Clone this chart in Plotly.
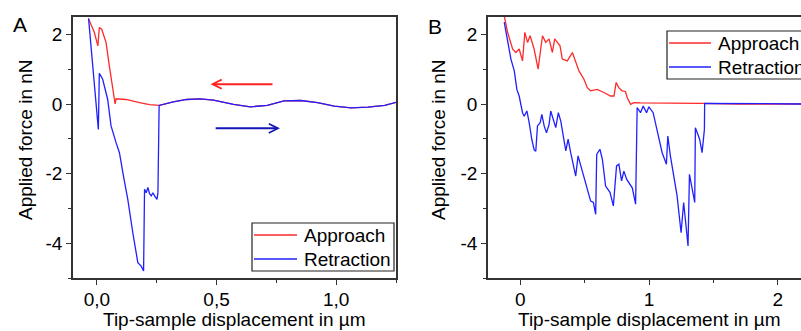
import plotly.graph_objects as go

# ---------------- Panel A data ----------------
a_app_x = [-0.035, -0.011, 0.004, 0.010, 0.020, 0.038, 0.052, 0.073, 0.076, 0.080, 0.122, 0.178, 0.220, 0.260,
           0.319, 0.375, 0.431, 0.487, 0.571, 0.641, 0.712, 0.782, 0.852, 0.922, 0.992, 1.062, 1.133, 1.203, 1.256]
a_app_y = [2.45, 2.06, 1.67, 2.20, 2.15, 1.77, 1.09, 0.13, 0.00, 0.15, 0.13, 0.04, -0.02, -0.04,
           0.06, 0.13, 0.15, 0.11, -0.01, -0.08, -0.04, 0.09, 0.10, 0.04, -0.06, -0.11, -0.09, -0.04, 0.06]

a_ret_x = [-0.035, -0.018, -0.004, 0.006, 0.010, 0.024, 0.045, 0.059, 0.080, 0.094, 0.111, 0.129, 0.150,
           0.171, 0.185, 0.195, 0.199, 0.206, 0.213, 0.220, 0.227, 0.234, 0.241, 0.251, 0.255, 0.260,
           0.319, 0.375, 0.431, 0.487, 0.571, 0.641, 0.712, 0.782, 0.852, 0.922, 0.992, 1.062, 1.133, 1.203, 1.256]
a_ret_y = [2.46, 1.09, -0.15, -0.73, 0.88, 0.71, 0.13, -0.63, -1.11, -1.40, -2.07, -2.74, -3.70,
           -4.56, -4.66, -4.80, -2.45, -2.55, -2.40, -2.58, -2.64, -2.55, -2.64, -2.74, -2.55, -0.04,
           0.06, 0.13, 0.15, 0.11, -0.01, -0.08, -0.04, 0.09, 0.10, 0.04, -0.06, -0.11, -0.09, -0.04, 0.06]

# ---------------- Panel B data ----------------
b_app_x = [-0.124, -0.098, -0.059, -0.034, -0.008, 0.018, 0.036, 0.057, 0.077, 0.108, 0.139, 0.173, 0.198,
           0.224, 0.250, 0.268, 0.289, 0.309, 0.327, 0.366, 0.405, 0.430, 0.456, 0.495, 0.521, 0.546,
           0.598, 0.649, 0.701, 0.728, 0.745, 0.765, 0.791, 0.817, 0.831, 0.857, 0.882, 0.933, 1.139,
           1.397, 1.700, 2.000, 2.200]
b_app_y = [2.54, 2.06, 1.58, 1.48, 1.58, 1.24, 2.06, 1.77, 1.96, 1.58, 1.00, 1.96, 1.77,
           1.87, 1.48, 1.87, 1.77, 1.67, 1.29, 1.24, 1.48, 1.24, 0.95, 0.71, 0.47, 0.38,
           0.42, 0.33, 0.23, 0.23, 0.62, 0.47, 0.38, 0.36, 0.18, -0.01, 0.04, 0.03, 0.03,
           0.02, 0.00, 0.01, 0.00]

b_ret_x = [-0.124, -0.098, -0.072, -0.046, -0.034, -0.026, -0.008, 0.018, 0.031, 0.052, 0.070, 0.090,
           0.108, 0.121, 0.134, 0.155, 0.168, 0.186, 0.204, 0.224, 0.237, 0.258, 0.276, 0.296, 0.315,
           0.354, 0.372, 0.392, 0.431, 0.449, 0.475, 0.495, 0.522, 0.547, 0.568, 0.586, 0.594, 0.619,
           0.638, 0.663, 0.697, 0.723, 0.748, 0.766, 0.787, 0.805, 0.826, 0.844, 0.870, 0.896, 0.908,
           0.934, 0.955, 0.981, 0.999, 1.032, 1.063, 1.102, 1.135, 1.146, 1.166, 1.192, 1.218, 1.249,
           1.269, 1.290, 1.303, 1.314, 1.334, 1.355, 1.360, 1.393, 1.412, 1.430, 1.432, 1.800, 2.200]
b_ret_y = [2.35, 1.77, 1.29, 0.95, 0.62, 0.42, 0.23, -0.25, -0.35, -0.20, -0.54, -1.02,
           -1.31, -1.36, -0.63, -0.54, -0.30, -0.63, -0.83, -0.59, -0.20, -0.44, -0.68, -0.25, -0.49,
           -1.35, -1.01, -1.40, -2.07, -1.49, -1.83, -2.12, -2.45, -2.79, -2.83, -3.17, -1.45, -1.30,
           -1.59, -2.36, -2.54, -2.93, -1.78, -1.73, -2.21, -1.93, -2.16, -2.26, -2.41, -2.88, -0.10,
           -0.25, -0.06, -0.25, -0.08, -0.25, -0.73, -1.40, -1.73, -0.92, -1.49, -2.07, -2.64, -3.70,
           -2.83, -3.60, -4.08, -2.02, -2.45, -2.83, -0.68, -1.01, -1.40, -0.73, 0.02, 0.00, 0.00]

# Direction arrows in panel A (data coords): [x_start, x_end], y
arrow_red_x = [0.74, 0.475]
arrow_red_y = 0.57
arrow_blue_x = [0.49, 0.765]
arrow_blue_y = -0.70

series_names = ["Approach", "Retraction"]
a_xticks = [0.0, 0.5, 1.0]
a_xticktext = ["0,0", "0,5", "1,0"]
b_xticks = [0, 1, 2]
b_xticktext = ["0", "1", "2"]
yticks = [2, 0, -2, -4]
yticktext = ["2", "0", "-2", "-4"]

RED = "#ff2a2a"
BLUE = "#2020ff"
COLORS = [RED, BLUE]
ARROW_RED = "#ff2020"
ARROW_BLUE = "#1515b8"
FONT = "Liberation Sans, Arial, sans-serif"
AX = "#333333"

fig = go.Figure()

fig.add_trace(go.Scatter(x=a_app_x, y=a_app_y, mode="lines", line=dict(color=RED, width=1.3),
                         name=series_names[0], xaxis="x", yaxis="y", showlegend=False))
fig.add_trace(go.Scatter(x=a_ret_x, y=a_ret_y, mode="lines", line=dict(color=BLUE, width=1.3),
                         name=series_names[1], xaxis="x", yaxis="y", showlegend=False))
fig.add_trace(go.Scatter(x=b_app_x, y=b_app_y, mode="lines", line=dict(color=RED, width=1.3),
                         name=series_names[0], xaxis="x2", yaxis="y2", showlegend=False))
fig.add_trace(go.Scatter(x=b_ret_x, y=b_ret_y, mode="lines", line=dict(color=BLUE, width=1.3),
                         name=series_names[1], xaxis="x2", yaxis="y2", showlegend=False))

# arrows as annotations
fig.add_annotation(x=arrow_red_x[1], y=arrow_red_y, ax=arrow_red_x[0], ay=arrow_red_y,
                   xref="x", yref="y", axref="x", ayref="y", text="", showarrow=True,
                   arrowhead=5, arrowsize=0.9, arrowwidth=2, arrowcolor=ARROW_RED)
fig.add_annotation(x=arrow_blue_x[1], y=arrow_blue_y, ax=arrow_blue_x[0], ay=arrow_blue_y,
                   xref="x", yref="y", axref="x", ayref="y", text="", showarrow=True,
                   arrowhead=5, arrowsize=0.9, arrowwidth=2, arrowcolor=ARROW_BLUE)

W, H = 801, 331
top = 1 - 17 / H
bot = 1 - 278 / H
axA = [73 / W, 396 / W]
axB = [488 / W, 1.0]

common_y = dict(range=[-5, 2.5], tickvals=yticks, ticktext=yticktext, ticks="outside", ticklen=5,
                tickwidth=1.2, tickcolor=AX, showline=True, linecolor=AX, linewidth=1.5,
                showgrid=False, zeroline=False, domain=[bot, top],
                minor=dict(dtick=1, ticks="outside", ticklen=3, tickcolor=AX, tickwidth=1.2),
                tickfont=dict(size=19, family=FONT, color="black"))

fig.update_layout(
    width=W, height=H, margin=dict(l=0, r=0, t=0, b=0, autoexpand=False),
    paper_bgcolor="white", plot_bgcolor="white",
    font=dict(family=FONT, size=19, color="black"),
    xaxis=dict(domain=axA, range=[-0.1, 1.25], tickvals=a_xticks, ticktext=a_xticktext,
               ticks="outside", ticklen=5, tickwidth=1.2, tickcolor=AX, showline=True,
               linecolor=AX, linewidth=1.5, mirror=True, showgrid=False, zeroline=False,
               anchor="y", ticklabelstandoff=-2,
               minor=dict(dtick=0.25, ticks="outside", ticklen=3, tickcolor=AX, tickwidth=1.2),
               tickfont=dict(size=19, family=FONT, color="black")),
    yaxis=dict(anchor="x", mirror=True, **common_y),
    xaxis2=dict(domain=axB, range=[-0.25, 2.18], tickvals=b_xticks, ticktext=b_xticktext,
                ticks="outside", ticklen=5, tickwidth=1.2, tickcolor=AX, showline=True,
                linecolor=AX, linewidth=1.5, mirror=True, showgrid=False, zeroline=False,
                anchor="y2", ticklabelstandoff=-2,
                minor=dict(dtick=0.5, ticks="outside", ticklen=3, tickcolor=AX, tickwidth=1.2),
                tickfont=dict(size=19, family=FONT, color="black")),
    yaxis2=dict(anchor="x2", mirror=False, **common_y),
    showlegend=False,
)

# ---- manual legends (pixel layout) ----
def px_x(v):
    return v / W

def px_y(v):
    return 1 - v / H

legend_boxes = [
    dict(box=(252, 223, 394, 271), lx=(254, 297), tx=302, rows=(235, 259)),
    dict(box=(667, 31, 830, 79), lx=(669, 711), tx=716, rows=(43, 67)),
]
for lg in legend_boxes:
    x0, y0, x1, y1 = lg["box"]
    fig.add_shape(type="rect", xref="paper", yref="paper", x0=px_x(x0), x1=px_x(x1),
                  y0=px_y(y1), y1=px_y(y0), line=dict(color="#222222", width=1.2),
                  fillcolor="white", layer="above")
    for name, col, ry in zip(series_names, COLORS, lg["rows"]):
        fig.add_shape(type="line", xref="paper", yref="paper", x0=px_x(lg["lx"][0]), x1=px_x(lg["lx"][1]),
                      y0=px_y(ry), y1=px_y(ry), line=dict(color=col, width=1.3), layer="above")
        fig.add_annotation(x=px_x(lg["tx"]), y=px_y(ry), xref="paper", yref="paper", text=name,
                           xanchor="left", yanchor="middle", showarrow=False,
                           font=dict(size=19, family=FONT, color="black"))

def label(x, y, text, size=19, angle=0):
    fig.add_annotation(x=px_x(x), y=px_y(y), xref="paper", yref="paper", text=text, showarrow=False,
                       xanchor="center", yanchor="middle", textangle=angle,
                       font=dict(size=size, family=FONT, color="black"))

label(20, 24, "A", size=21)
label(435, 26, "B", size=21)
label(25, 140, "Applied force in nN", angle=-90)
label(438, 140, "Applied force in nN", angle=-90)
label(234.5, 319, "Tip-sample displacement in µm")
label(649, 319, "Tip-sample displacement in µm")

fig.write_html("out.html")
